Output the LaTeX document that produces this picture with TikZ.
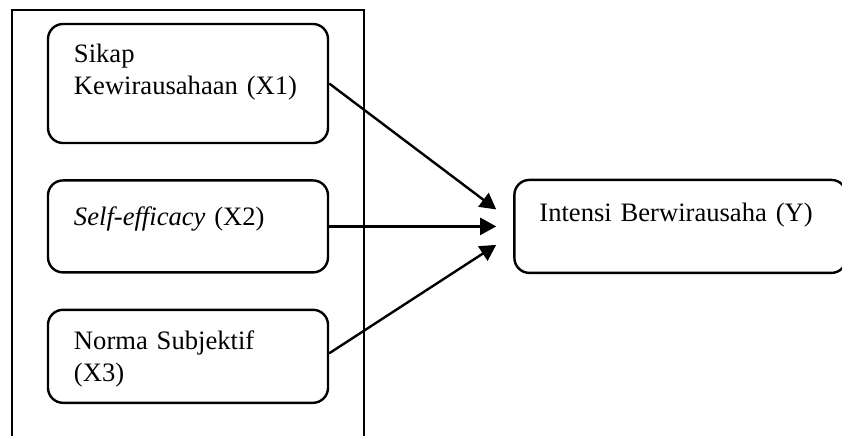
\documentclass[tikz,border=0pt]{standalone}
\usepackage{fontspec}
\setmainfont{Liberation Serif}
\usetikzlibrary{arrows.meta, positioning}

\newcommand\boxfont{\fontsize{13.3pt}{16pt}\selectfont}

\begin{document}
\begin{tikzpicture}[
		x=0.5pt, y=-0.5pt,
		node distance=17.5pt,
		varbox/.style={draw, rectangle, rounded corners=7.5pt, line width=1.2pt, font=\boxfont,
			text width=114pt, inner xsep=13pt, align=left, minimum width=140pt, text height=9pt},
		arrow/.style={-{Triangle[length=8pt, width=8.5pt]}, line width=1.2pt}
		]
		\useasboundingbox (0,0) rectangle (842,435);
		
		% Frame
		\draw[line width=1.2pt] (12,440) |- (364,10) -- (364,440);
		
		% Nodes
		\node[varbox, minimum height=59.5pt, text depth=30pt] (sikap) at (188,83.5) {Sikap\\Kewirausahaan (X1)};
		\node[varbox, minimum height=46pt, text depth=10pt] (efficacy) [below=of sikap] {\textit{Self-efficacy} (X2)};
		\node[varbox, minimum height=46.5pt, text depth=16pt] (norma) [below=of efficacy] {Norma Subjektif\\(X3)};
		\node[varbox, minimum height=46.5pt, text depth=14pt, text width=141pt, inner xsep=12.5pt,
			minimum width=166pt] (intensi) [right=92pt of efficacy] {Intensi Berwirausaha (Y)};
		
		\coordinate (in1) at ([xshift=-8.5pt, yshift=8.5pt]intensi.west);
		\coordinate (in2) at ([xshift=-8.5pt]intensi.west);
		\coordinate (in3) at ([xshift=-8.5pt, yshift=-9.25pt]intensi.west);
		
		% Arrows
		\draw[arrow] (sikap.east) -- (in1);
		\draw[arrow] (efficacy.east) -- (in2);
		\draw[arrow] ([yshift=1.5pt]norma.east) -- (in3);
		
	\end{tikzpicture}
\end{document}
